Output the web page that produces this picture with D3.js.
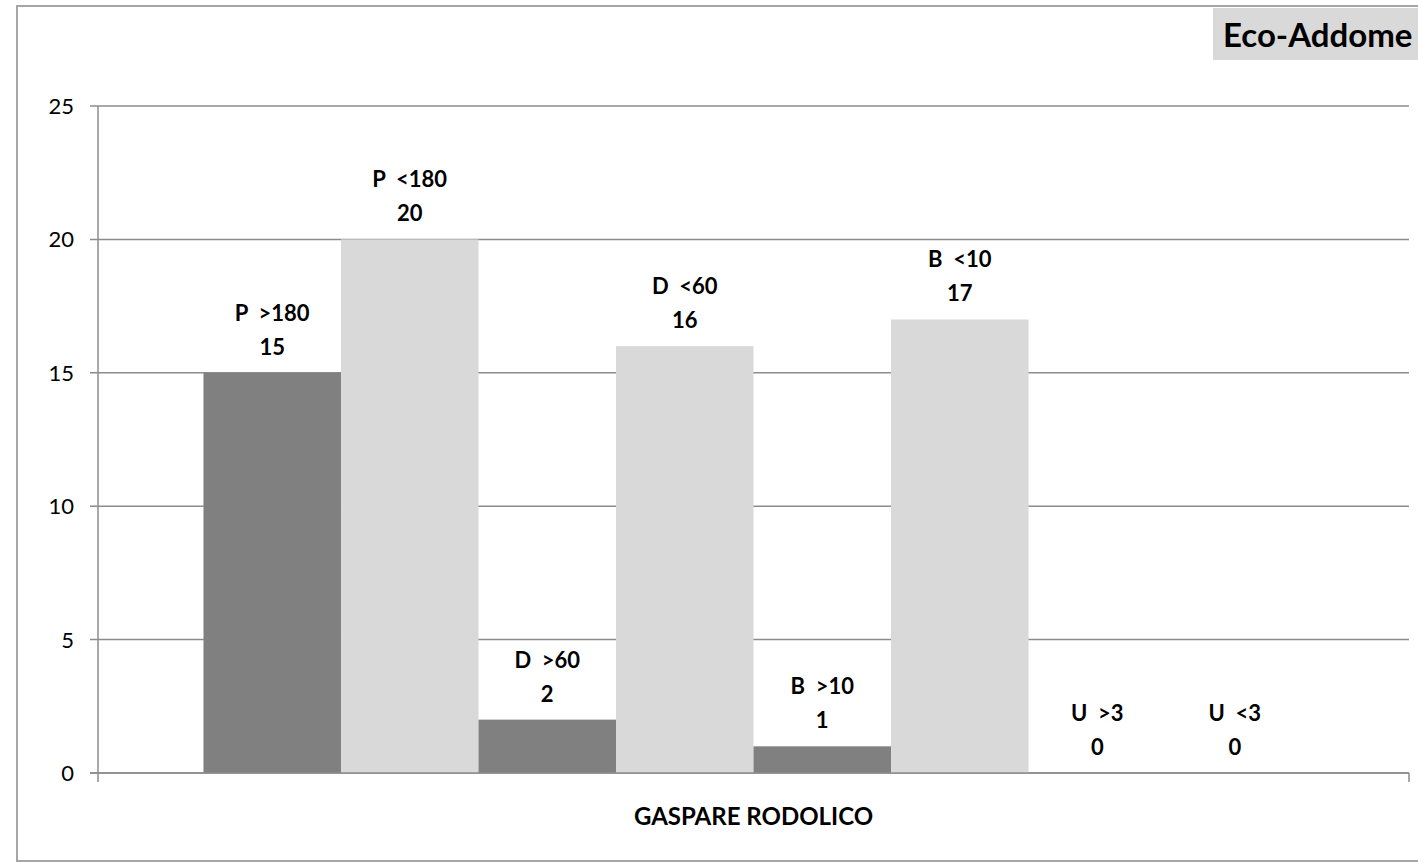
<!DOCTYPE html>
<html>
<head>
<meta charset="utf-8">
<script src="https://cdn.jsdelivr.net/npm/d3@7"></script>
<style>
  body { margin: 0; background: #fff; }
  svg text { font-family: Lato, "Open Sans", sans-serif; }
</style>
</head>
<body>
<svg id="chart" width="1418" height="862"></svg>
<script>
// data
const category = ['GASPARE RODOLICO']
const seriesNames = ['P  >180', 'P  <180', 'D  >60', 'D  <60', 'B  >10', 'B  <10', 'U  >3', 'U  <3']
const seriesValues = [15, 20, 2, 16, 1, 17, 0, 0]
const seriesColors = ['#808080', '#d9d9d9', '#808080', '#d9d9d9', '#808080', '#d9d9d9', '#808080', '#d9d9d9']
const yTicks = [0, 5, 10, 15, 20, 25]
const chartTitle = 'Eco-Addome'

const svg = d3.select('#chart')

// outer chart border (runs off the right edge like the screenshot)
svg.append('rect')
    .attr('x', 17)
    .attr('y', 6)
    .attr('width', 1440)
    .attr('height', 855)
    .attr('fill', 'none')
    .attr('stroke', '#a6a6a6')
    .attr('stroke-width', 2)

const plot = { left: 98, right: 1409, top: 106, bottom: 773 }

let y = d3.scaleLinear()
    .domain([0, 25])
    .range([plot.bottom, plot.top])

let x0 = d3.scaleBand()
    .domain(category)
    .range([plot.left, plot.right])

let x1 = d3.scaleBand()
    .domain(seriesNames)
    .range([x0(category[0]), x0(category[0]) + x0.bandwidth()])
    .paddingInner(0)
    .paddingOuter(0.767)

// gridlines
svg.append('g')
    .selectAll('line')
    .data(yTicks)
    .join('line')
    .attr('x1', plot.left - 8)
    .attr('x2', plot.right)
    .attr('y1', d => y(d))
    .attr('y2', d => y(d))
    .attr('stroke', '#8c8c8c')
    .attr('stroke-width', 1.5)

// y tick labels
svg.append('g')
    .selectAll('text')
    .data(yTicks)
    .join('text')
    .attr('x', 74)
    .attr('y', d => y(d))
    .attr('dy', '0.36em')
    .attr('text-anchor', 'end')
    .style('font-size', '22px')
    .attr('fill', '#000')
    .text(d => d)

// bars
svg.append('g')
    .selectAll('rect')
    .data(seriesNames)
    .join('rect')
    .attr('x', d => x1(d))
    .attr('y', (d, i) => y(seriesValues[i]))
    .attr('width', x1.bandwidth())
    .attr('height', (d, i) => y(0) - y(seriesValues[i]))
    .attr('fill', (d, i) => seriesColors[i])

// axes lines on top
svg.append('line')
    .attr('x1', plot.left).attr('x2', plot.left)
    .attr('y1', plot.top).attr('y2', plot.bottom + 9)
    .attr('stroke', '#8c8c8c').attr('stroke-width', 1.5)
svg.append('line')
    .attr('x1', plot.left - 8).attr('x2', plot.right)
    .attr('y1', y(0)).attr('y2', y(0))
    .attr('stroke', '#8c8c8c').attr('stroke-width', 1.5)
svg.append('line')
    .attr('x1', plot.right).attr('x2', plot.right)
    .attr('y1', y(0)).attr('y2', plot.bottom + 9)
    .attr('stroke', '#8c8c8c').attr('stroke-width', 1.5)

// data labels: series name over value
let labelG = svg.append('g')
    .selectAll('text')
    .data(seriesNames)
    .join('text')
    .attr('text-anchor', 'middle')
    .style('font-size', '22px')
    .style('font-weight', 'bold')
    .style('white-space', 'pre')
    .attr('fill', '#000')

labelG.append('tspan')
    .attr('x', d => x1(d) + x1.bandwidth() / 2)
    .attr('y', (d, i) => y(seriesValues[i]) - 52)
    .text(d => d)

labelG.append('tspan')
    .attr('x', d => x1(d) + x1.bandwidth() / 2)
    .attr('y', (d, i) => y(seriesValues[i]) - 18)
    .text((d, i) => seriesValues[i])

// category label
svg.append('text')
    .attr('x', x0(category[0]) + x0.bandwidth() / 2)
    .attr('y', 825)
    .attr('text-anchor', 'middle')
    .style('font-size', '24px')
    .style('font-weight', 'bold')
    .text(category[0])

// title box in the corner
svg.append('rect')
    .attr('x', 1213)
    .attr('y', 8)
    .attr('width', 220)
    .attr('height', 52)
    .attr('fill', '#d9d9d9')

svg.append('text')
    .attr('x', 1223)
    .attr('y', 47)
    .style('font-size', '33px')
    .style('font-weight', 'bold')
    .text(chartTitle)
</script>
</body>
</html>
